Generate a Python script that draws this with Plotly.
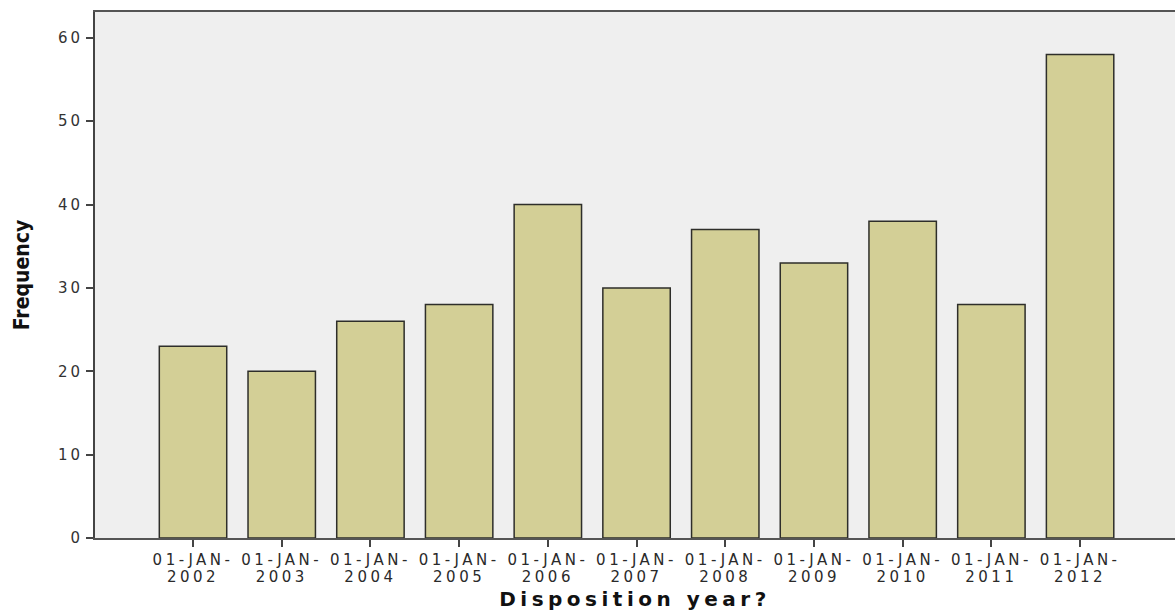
import plotly.graph_objects as go

years = ["2002", "2003", "2004", "2005", "2006", "2007", "2008", "2009", "2010", "2011", "2012"]
frequency = [23, 20, 26, 28, 40, 30, 37, 33, 38, 28, 58]
tick_labels = ["01-JAN-<br>" + y for y in years]
y_ticks = [0, 10, 20, 30, 40, 50, 60]

fig = go.Figure()
fig.add_trace(go.Bar(
    x=list(range(len(years))),
    y=frequency,
    width=0.76,
    marker=dict(color="#d3cf96", line=dict(color="#2e2e2a", width=1.5)),
    hoverinfo="y",
))

fig.update_layout(
    width=1175, height=611,
    margin=dict(l=95, r=0, t=12, b=73),
    paper_bgcolor="white",
    plot_bgcolor="#efefef",
    showlegend=False,
    xaxis=dict(
        range=[-1.105, 11.07],
        tickmode="array",
        tickvals=list(range(len(years))),
        ticktext=tick_labels,
        ticks="outside", ticklen=7, tickwidth=2, tickcolor="#444",
        showline=True, linecolor="#555", linewidth=2, mirror=True,
        showgrid=False, zeroline=False,
        tickfont=dict(family="DejaVu Sans", size=15, color="#2a2a2a"),
        title=dict(text="Disposition year?", standoff=4,
                   font=dict(family="DejaVu Sans", size=20, color="#111", weight="bold")),
    ),
    yaxis=dict(
        range=[0, 63.1],
        tickmode="array",
        tickvals=y_ticks,
        ticks="outside", ticklen=7, tickwidth=2, tickcolor="#444",
        showline=True, linecolor="#444", linewidth=2,
        showgrid=False, zeroline=False,
        tickfont=dict(family="DejaVu Sans", size=15, color="#333"),
        title=dict(text="Frequency", standoff=29,
                   font=dict(family="Liberation Sans Narrow, DejaVu Sans Condensed, DejaVu Sans", size=21, color="#111", weight="bold")),
    ),
)

post = """
document.body.style.margin='0';document.body.style.overflow='hidden';
document.querySelectorAll('.xtick text').forEach(function(t){t.style.letterSpacing='3.5px';});
document.querySelectorAll('.xtick text tspan.line').forEach(function(s,i){
  var d = s.getAttribute('dy');
  if (d && parseFloat(d) > 0.5) { s.setAttribute('dy','1.12em'); }
});
document.querySelectorAll('.ytick text').forEach(function(t){t.style.letterSpacing='3px';});
document.querySelectorAll('.g-xtitle text').forEach(function(t){t.style.letterSpacing='4.5px';});
"""
fig.write_html("out.html", config={"displayModeBar": False}, post_script=post)
